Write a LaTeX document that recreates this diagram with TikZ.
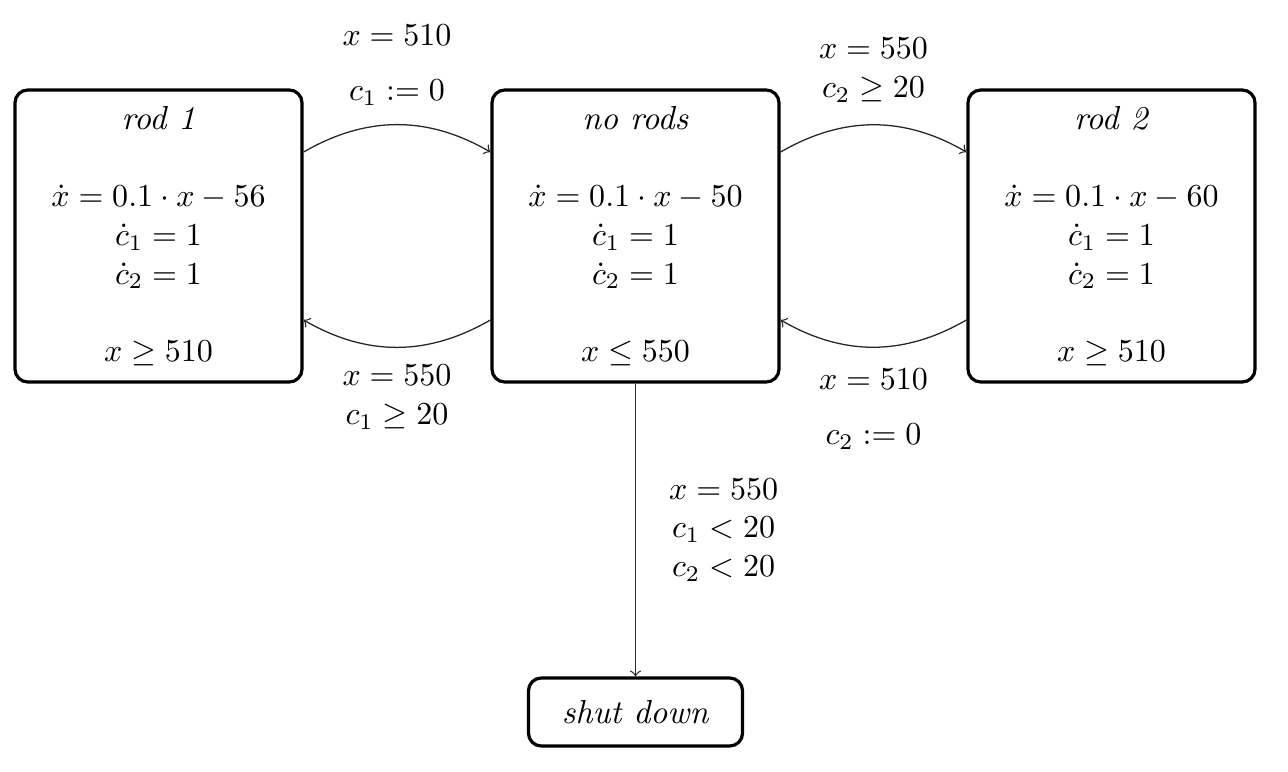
\documentclass[tikz,border=0pt]{standalone}
\usepackage{amsmath}
\usetikzlibrary{calc}
\begin{document}
\begin{tikzpicture}[x=0.3125pt,y=-0.3125pt,
  every node/.style={font=\fontsize{10.4pt}{12.1pt}\selectfont},
  state/.style={draw,line width=1pt,rounded corners=4pt,align=center,
    minimum width=89.7pt,minimum height=91.25pt,inner sep=0pt},
  endstate/.style={draw,line width=1pt,rounded corners=4pt,align=center,
    minimum width=66.9pt,minimum height=21.25pt,inner sep=0pt},
  arr/.style={->,line width=0.4pt,draw=black!85},
  lbl/.style={inner sep=0pt,align=center}]
\useasboundingbox (0,0) rectangle (1288,772);
\node[state] (r1) at (158.5,236) {\textit{rod 1}\\[12pt]$\dot x=0.1\cdot x-56$\\$\dot{c}_1=1$\\$\dot{c}_2=1$\\[12pt]$x\geq 510$};
\node[state] (nr) at (635.5,236) {\textit{no rods}\\[12pt]$\dot x=0.1\cdot x-50$\\$\dot{c}_1=1$\\$\dot{c}_2=1$\\[12pt]$x\leq 550$};
\node[state] (r2) at (1111.5,236) {\textit{rod 2}\\[12pt]$\dot x=0.1\cdot x-60$\\$\dot{c}_1=1$\\$\dot{c}_2=1$\\[12pt]$x\geq 510$};
\node[endstate] (sd) at (635.5,712) {\textit{shut down}};
\draw[arr] ($(r1.east)+(0,-84)$) to[bend left=30]
  node[lbl,pos=0.5,yshift=10pt] (l1a) {$c_1:=0$}
  node[lbl,pos=0.5,yshift=28pt] (l1b) {$x=510$}
  ($(nr.west)+(0,-84)$);
\draw[arr] ($(nr.west)+(0,84)$) to[bend left=30]
  node[lbl,pos=0.5,yshift=-15.6pt] (l2) {$x=550$\\$c_1\geq 20$}
  ($(r1.east)+(0,84)$);
\draw[arr] ($(nr.east)+(0,-84)$) to[bend left=30]
  node[lbl,pos=0.5,yshift=17pt] (l3) {$x=550$\\$c_2\geq 20$}
  ($(r2.west)+(0,-84)$);
\draw[arr] ($(r2.west)+(0,84)$) to[bend left=30]
  node[lbl,pos=0.5,yshift=-10pt] (l4a) {$x=510$}
  node[lbl,pos=0.5,yshift=-28pt] (l4b) {$c_2:=0$}
  ($(nr.east)+(0,84)$);
\draw[arr] (nr.south) -- node[lbl,midway,anchor=west,xshift=10.3pt] (l5) {$x=550$\\$c_1<20$\\$c_2<20$} (sd.north);
\end{tikzpicture}
\end{document}
